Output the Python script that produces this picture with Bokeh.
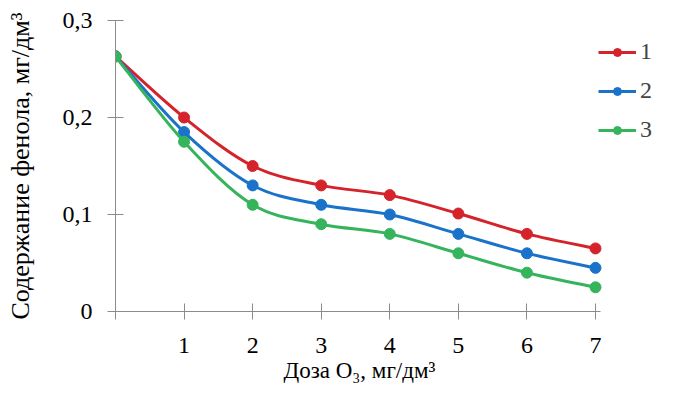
from bokeh.plotting import figure
from bokeh.models import FixedTicker, Legend, LegendItem, Range1d, ColumnDataSource, Title
from bokeh.embed import file_html
from bokeh.resources import INLINE

dose = [0, 1, 2, 3, 4, 5, 6, 7]
series1 = [0.263, 0.200, 0.150, 0.130, 0.120, 0.101, 0.080, 0.065]
series2 = [0.263, 0.185, 0.130, 0.110, 0.100, 0.080, 0.060, 0.045]
series3 = [0.263, 0.175, 0.110, 0.090, 0.080, 0.060, 0.040, 0.025]
names = ["1", "2", "3"]
colors = ["#d4232a", "#1a73c9", "#36b45c"]
y_ticks = [0, 0.1, 0.2, 0.3]
y_tick_labels = ["0", "0,1", "0,2", "0,3"]
x_ticks = [0, 1, 2, 3, 4, 5, 6, 7]
x_tick_labels = ["", "1", "2", "3", "4", "5", "6", "7"]
x_title = "Доза O₃, мг/дм³"
y_title = "Содержание фенола, мг/дм³"

FONT = "Liberation Serif"

W, H = 663, 384
LEFT, TOP, BOTTOM, RIGHT = 115, 20, 73, 5
AXIS_PX = 480  # pixel length of the 0..7 axis
frame_w = W - LEFT - RIGHT
x_end = 7 * frame_w / AXIS_PX

p = figure(width=W, height=H, output_backend="svg", toolbar_location=None,
           x_range=Range1d(0, x_end), y_range=Range1d(0, 0.3),
           min_border_left=LEFT, min_border_right=RIGHT, min_border_top=TOP, min_border_bottom=BOTTOM)
p.outline_line_color = None
p.xgrid.visible = False
p.ygrid.visible = False
p.background_fill_color = "white"
p.border_fill_color = "white"

for ax in (p.xaxis[0], p.yaxis[0]):
    ax.axis_line_color = "#8c8c8c"
    ax.major_tick_line_color = "#8c8c8c"
    ax.minor_tick_line_color = None
    ax.major_label_text_font = FONT
    ax.major_label_text_font_size = "24px"
    ax.major_label_text_color = "black"
    ax.axis_label_text_font = FONT
    ax.axis_label_text_font_style = "normal"
    ax.axis_label_text_color = "black"
    ax.major_tick_in = 8
    ax.major_tick_out = 8

p.yaxis.ticker = FixedTicker(ticks=y_ticks)
p.yaxis.major_label_overrides = dict(zip(y_ticks, y_tick_labels))
p.yaxis.major_label_standoff = 15
p.yaxis.axis_label = y_title
p.yaxis.axis_label_text_font_size = "26px"
p.yaxis.axis_label_standoff = 25

p.xaxis.ticker = FixedTicker(ticks=x_ticks)
p.xaxis.bounds = (0, 7.08)
p.xaxis.major_label_overrides = dict(zip(x_ticks, x_tick_labels))
p.xaxis.major_label_standoff = 18

xt = Title(text=x_title, align="left", offset=168, standoff=0,
           text_font=FONT, text_font_size="23px", text_font_style="normal", text_color="black")
p.add_layout(xt, "below")


def bezier_source(xs, ys):
    n = len(xs)
    d = dict(x0=[], y0=[], x1=[], y1=[], cx0=[], cy0=[], cx1=[], cy1=[])
    for i in range(n - 1):
        im1 = max(i - 1, 0)
        ip2 = min(i + 2, n - 1)
        d["x0"].append(xs[i]); d["y0"].append(ys[i])
        d["x1"].append(xs[i + 1]); d["y1"].append(ys[i + 1])
        d["cx0"].append(xs[i] + (xs[i + 1] - xs[im1]) / 6)
        d["cy0"].append(ys[i] + (ys[i + 1] - ys[im1]) / 6)
        d["cx1"].append(xs[i + 1] - (xs[ip2] - xs[i]) / 6)
        d["cy1"].append(ys[i + 1] - (ys[ip2] - ys[i]) / 6)
    return ColumnDataSource(d)


items = []
for name, ys, c in zip(names, [series1, series2, series3], colors):
    br = p.bezier(x0="x0", y0="y0", x1="x1", y1="y1", cx0="cx0", cy0="cy0", cx1="cx1", cy1="cy1",
                  source=bezier_source(dose, ys), line_color=c, line_width=3)
    sc = p.scatter(dose, ys, size=11, fill_color=c, line_color=c)
    items.append(LegendItem(label=name, renderers=[br, sc]))

legend = Legend(items=items, location=(483, 168), padding=0, margin=0,
                border_line_color=None, background_fill_alpha=0,
                glyph_width=38, glyph_height=20, label_height=20, spacing=12,
                label_standoff=4, label_text_font=FONT, label_text_font_size="24px")
p.add_layout(legend, "center")

open("out.html", "w").write(file_html(p, INLINE))
